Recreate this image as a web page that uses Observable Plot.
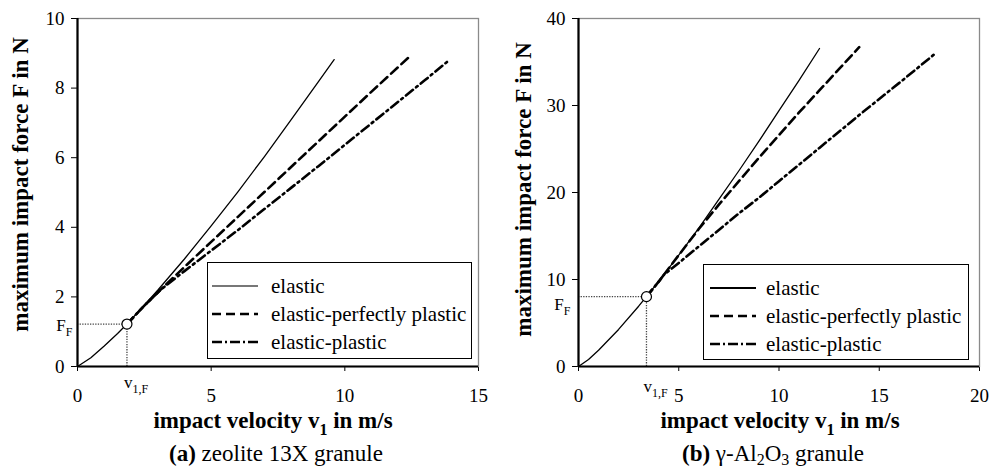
<!DOCTYPE html>
<html><head><meta charset="utf-8">
<script src="https://cdn.jsdelivr.net/npm/d3@7"></script>
<script src="https://cdn.jsdelivr.net/npm/@observablehq/plot@0.6"></script>
<style>
html,body{margin:0;padding:0;background:#fff;}
#wrap{position:relative;width:990px;height:471px;font-family:"Liberation Serif","DejaVu Serif","Times New Roman",serif;color:#000;overflow:hidden;background:#fff}
#wrap svg text, #wrap svg tspan, #wrap div, #wrap span{font-family:"Liberation Serif","DejaVu Serif","Times New Roman",serif !important;}
#wrap svg [aria-label$="tick label"] text, #wrap svg .tick text{font-size:19px !important;}
.panel{position:absolute;top:0;width:495px;height:471px}
.panel > svg{position:absolute;left:0;top:0}
.caption{position:absolute;width:400px;text-align:center;font-size:23px;top:441px;line-height:26px;white-space:nowrap}
.caption sub{font-size:16px;vertical-align:-4px;line-height:0}
.legend{position:absolute;border:1px solid #000;background:#fff;font-size:21px;box-sizing:border-box}
.legend .row{position:absolute;left:0;height:24px;display:flex;align-items:center;white-space:nowrap}
.legend .row svg{position:static;display:block}
</style>
</head><body>
<div id="wrap"></div>
<script>
// ---------- data ----------
const seriesNames = ["elastic", "elastic-perfectly plastic", "elastic-plastic"];
const xLabel = "impact velocity v1 in m/s";
const yLabel = "maximum impact force F in N";

// (a) zeolite 13X granule  [v1 (m/s), F (N)]
const zeoliteElastic = [[0,0],[0.5,0.25],[1,0.59],[1.5,0.95],[1.85,1.22],[2.5,1.76],[3,2.19],[4,3.09],[5,4.04],[6,5.02],[7,6.04],[8,7.1],[9,8.17],[9.6,8.82]];
const zeolitePerfect = [[1.85,1.22],[2.5,1.75],[3.1,2.2],[4,2.86],[5,3.58],[6,4.3],[7,5.02],[8,5.74],[9,6.46],[10,7.18],[11,7.9],[12.47,8.94]];
const zeolitePlastic = [[1.85,1.22],[2.5,1.75],[3.1,2.2],[4,2.74],[5,3.33],[6,3.92],[7,4.53],[8,5.14],[9,5.75],[10,6.37],[11,6.99],[12,7.61],[13,8.23],[13.93,8.82]];
const zeoliteYield = [[1.85,1.22]];
const zeoliteXTicks = [0,5,10,15];
const zeoliteYTicks = [0,2,4,6,8,10];

// (b) gamma-Al2O3 granule
const aluminaElastic = [[0,0],[0.5,0.8],[1,1.86],[2,4.26],[3,6.93],[3.39,8.03],[4,9.79],[5,12.8],[6,15.9],[7,19.2],[8,22.5],[9,25.9],[10,29.4],[11,32.9],[12.02,36.55]];
const aluminaPerfect = [[3.39,8.03],[4,9.75],[5,12.8],[6,15.8],[7,18.6],[8,21.3],[9,24.0],[10,26.6],[11,29.2],[12,31.7],[13,34.2],[14,36.7]];
const aluminaPlastic = [[3.39,8.03],[4,9.75],[4.24,10.5],[5,11.9],[6,13.8],[7,15.7],[8,17.6],[9,19.4],[10,21.3],[12,25.1],[14,28.9],[16,32.6],[17.86,36.1]];
const aluminaYield = [[3.39,8.03]];
const aluminaXTicks = [0,5,10,15,20];
const aluminaYTicks = [0,10,20,30,40];

// ---------- styles ----------
const lineStyles = [
  {strokeWidth:1.3, strokeDasharray:null},
  {strokeWidth:2.6, strokeDasharray:"9,5"},
  {strokeWidth:2.6, strokeDasharray:"9,4,2,4"}
];
const FONT = '"Liberation Serif", "DejaVu Serif", "Times New Roman", serif';

function rich(svg, match, parts, baseSize){
  d3.select(svg).selectAll("text").each(function(){
    if (this.textContent !== match) return;
    const t = d3.select(this);
    t.text(null);
    let shifted = 0;
    parts.forEach(([s, sub]) => {
      const ts = t.append("tspan").text(s);
      const target = sub ? Math.round(baseSize*0.3) : 0;
      if (target !== shifted) { ts.attr("dy", target - shifted); shifted = target; }
      if (sub) ts.attr("font-size", Math.round(baseSize*0.68));
    });
  });
}

function panel(o){
  const xy = {x: d => d[0], y: d => d[1]};
  const p = Plot.plot({
    width:495, height:440,
    marginLeft:o.ml, marginRight:o.mr, marginTop:18, marginBottom:74,
    style:`font-family:${FONT};font-size:19px;color:#000;background:transparent;overflow:visible;`,
    x:{domain:o.xDomain, ticks:o.xTicks, tickSize:5, tickPadding:17, label:null, tickFormat:d=>String(d)},
    y:{domain:o.yDomain, ticks:o.yTicks, tickSize:6, tickPadding:7, label:null, tickFormat:d=>String(d)},
    marks:[
      Plot.frame({stroke:"#8a8a8a", strokeWidth:1.3}),
      Plot.ruleY(o.yieldPt, {y: d=>d[1], x1: ()=>0, x2: d=>d[0], stroke:"#444", strokeWidth:1.3, strokeDasharray:"1.3,1.3"}),
      Plot.ruleX(o.yieldPt, {x: d=>d[0], y1: ()=>0, y2: d=>d[1], stroke:"#444", strokeWidth:1.3, strokeDasharray:"1.3,1.3"}),
      Plot.line(o.series[0], {...xy, stroke:"#000", ...lineStyles[0]}),
      Plot.line(o.series[1], {...xy, stroke:"#000", ...lineStyles[1]}),
      Plot.line(o.series[2], {...xy, stroke:"#000", ...lineStyles[2]}),
      Plot.ruleX([o.xDomain[0]], {stroke:"#000", strokeWidth:2.2}),
      Plot.ruleY([o.yDomain[0]], {stroke:"#000", strokeWidth:2.2}),
      Plot.dot(o.yieldPt, {...xy, r:5, fill:"#fff", stroke:"#000", strokeWidth:1.2}),
      Plot.text(o.yieldPt, {y: d=>d[1], frameAnchor:"left", text:()=>"F_F", textAnchor:"end", lineAnchor:"middle", dx:o.ffDx, dy:o.ffDy, fontSize:17}),
      Plot.text(o.yieldPt, {x: d=>d[0], frameAnchor:"bottom", text:()=>"v_1,F", textAnchor:"start", lineAnchor:"middle", dx:-3, dy:o.vfDy, fontSize:17}),
      Plot.text([xLabel], {frameAnchor:"bottom", text:d=>d, textAnchor:"middle", lineAnchor:"middle", dy:54, dx:o.xlDx, fontWeight:"bold", fontSize:23}),
      Plot.text([yLabel], {frameAnchor:"left", text:d=>d, textAnchor:"middle", lineAnchor:"middle", rotate:-90, dx:o.ylDx, dy:o.ylDy, fontWeight:"bold", fontSize:23})
    ]
  });
  rich(p, "F_F", [["F",0],["F",1]], 17);
  rich(p, "v_1,F", [["v",0],["1,F",1]], 17);
  rich(p, xLabel, [["impact velocity v",0],["1",1],[" in m/s",0]], 23);
  return p;
}

function legend(box, elasticColor){
  const lg = document.createElement("div");
  lg.className = "legend";
  Object.assign(lg.style, {left:box.left+"px", top:box.top+"px", width:box.w+"px", height:box.h+"px"});
  seriesNames.forEach((name, i) => {
    const row = document.createElement("div");
    row.className = "row";
    row.style.top = (box.rows[i]-12) + "px";
    const s = d3.create("svg").attr("width", 52).attr("height", 8).style("margin-left", box.sx+"px");
    s.append("line").attr("x1",0).attr("x2",46).attr("y1",4).attr("y2",4)
      .attr("stroke", i===0 ? elasticColor : "#000")
      .attr("stroke-width", i===0 ? 1.8 : 2.6)
      .attr("stroke-dasharray", i===1 ? "9,5" : i===2 ? "10,3,2,3" : null);
    row.appendChild(s.node());
    const sp = document.createElement("span");
    sp.textContent = name;
    sp.style.marginLeft = (box.tx - box.sx - 52) + "px";
    row.appendChild(sp);
    lg.appendChild(row);
  });
  return lg;
}

const wrap = document.getElementById("wrap");

const panels = [
  {left:0, ml:77, mr:17, xDomain:[0,15], yDomain:[0,10], xTicks:zeoliteXTicks, yTicks:zeoliteYTicks,
   series:[zeoliteElastic, zeolitePerfect, zeolitePlastic], yieldPt:zeoliteYield,
   ffDx:-5, ffDy:2, vfDy:16, xlDx:-5, ylDx:-57, ylDy:-8, capCenter:276,
   caption:'<b>(a)</b> zeolite 13X granule',
   legendBox:{left:207, top:262, w:265, h:97, rows:[23,51,79], sx:4, tx:63}, elasticColor:"#777"},
  {left:495, ml:83, mr:11, xDomain:[0,20], yDomain:[0,40], xTicks:aluminaXTicks, yTicks:aluminaYTicks,
   series:[aluminaElastic, aluminaPerfect, aluminaPlastic], yieldPt:aluminaYield,
   ffDx:-8, ffDy:8, vfDy:20, xlDx:1, ylDx:-55, ylDy:-3, capCenter:278,
   caption:'<b>(b)</b> γ-Al<sub>2</sub>O<sub>3</sub> granule',
   legendBox:{left:208, top:264, w:266, h:96, rows:[23,51,79], sx:6, tx:62}, elasticColor:"#000"}
];

panels.forEach(o => {
  const div = document.createElement("div");
  div.className = "panel";
  div.style.left = o.left + "px";
  div.appendChild(panel(o));
  const cap = document.createElement("div");
  cap.className = "caption";
  cap.style.left = (o.capCenter - 200) + "px";
  cap.innerHTML = o.caption;
  div.appendChild(cap);
  div.appendChild(legend(o.legendBox, o.elasticColor));
  wrap.appendChild(div);
});
</script>
</body></html>
